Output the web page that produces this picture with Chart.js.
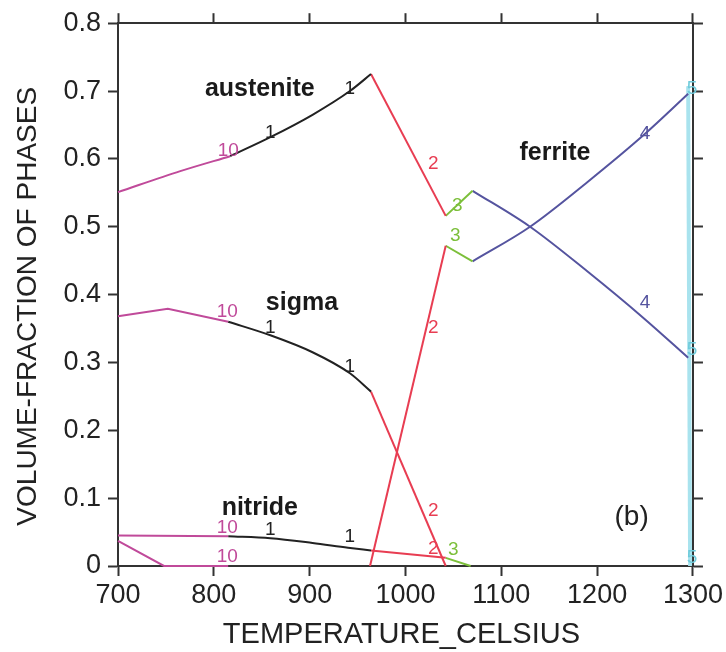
<!DOCTYPE html>
<html>
<head>
<meta charset="utf-8">
<script src="https://cdn.jsdelivr.net/npm/chart.js@4.4.1/dist/chart.umd.min.js"></script>
<style>
  html, body { margin: 0; padding: 0; background: #ffffff; }
  #wrap { width: 726px; height: 652px; position: relative; }
</style>
</head>
<body>
<div id="wrap"><canvas id="c"></canvas></div>
<script>
// ---- data (temperature °C, volume fraction) ----
const austeniteA = [[700,0.551],[765,0.582],[817,0.604]];
const austeniteB = [[817,0.604],[859,0.632],[903,0.665],[942,0.700],[964,0.725]];
const austeniteC = [[964,0.725],[1042,0.516]];
const austeniteD = [[1042,0.516],[1070,0.553]];
const austeniteE = [[1070,0.553],[1130,0.500],[1190,0.434],[1248,0.366],[1295,0.307]];

const sigmaA = [[700,0.368],[752,0.379],[815,0.360]];
const sigmaB = [[815,0.360],[859,0.340],[903,0.315],[942,0.284],[964,0.257]];
const sigmaC = [[964,0.257],[1042,0.0]];

const ferriteC = [[963,0.0],[1042,0.472]];
const ferriteD = [[1042,0.472],[1070,0.449]];
const ferriteE = [[1070,0.449],[1130,0.500],[1190,0.566],[1250,0.637],[1295,0.696]];

const nitrideA = [[700,0.045],[815,0.044]];
const nitrideB = [[815,0.044],[859,0.041],[903,0.034],[940,0.027],[964,0.023]];
const nitrideC = [[964,0.023],[1042,0.012]];
const nitrideD = [[1042,0.012],[1068,0.0]];

const otherA = [[700,0.037],[748,0.0],[815,0.0]];
const liquidF = [[1295,0.707],[1297,0.0]];

const xTicks = [700, 800, 900, 1000, 1100, 1200, 1300];
const yTicks = [0, 0.1, 0.2, 0.3, 0.4, 0.5, 0.6, 0.7, 0.8];

// phase names and step numbers placed in data coordinates
const phaseNames = ['austenite', 'sigma', 'nitride', 'ferrite'];
const phaseNameX = [848, 892, 848, 1156];
const phaseNameY = [0.703, 0.387, 0.085, 0.609];

const stepText = ['10','10','10','10','1','1','1','1','1','1','2','2','2','2','3','3','3','4','4','5','5','5'];
const stepX    = [815, 814, 814, 814, 859, 942, 859, 942, 859, 942, 1029, 1029, 1029, 1029, 1054, 1052, 1050, 1250, 1250, 1299, 1299, 1299];
const stepY    = [0.612, 0.374, 0.057, 0.013, 0.638, 0.704, 0.351, 0.293, 0.054, 0.043, 0.593, 0.351, 0.082, 0.026, 0.531, 0.487, 0.024, 0.637, 0.388, 0.703, 0.318, 0.012];
const stepKind = ['m','m','m','m','k','k','k','k','k','k','r','r','r','r','g','g','g','b','b','c','c','c'];

// ---- styles ----
const COL = { k: '#222222', r: '#e83d52', g: '#7cbf3a', b: '#55549f', m: '#c04a9a', c: '#6fcbdb' };
const FONT = "'Liberation Sans', Arial, Helvetica, sans-serif";

function pts(arr) { return arr.map(p => ({ x: p[0], y: p[1] })); }
function seg(arr, kind, width) {
  return { data: pts(arr), showLine: true, borderColor: COL[kind], borderWidth: width || 2,
           pointRadius: 0, pointHoverRadius: 0, fill: false, tension: 0,
           cubicInterpolationMode: arr.length > 2 ? 'monotone' : 'default', clip: 6 };
}

const datasets = [
  Object.assign(seg(otherA, 'm'), { cubicInterpolationMode: 'default' }),
  seg(nitrideA, 'm'), seg(austeniteA, 'm'),
  Object.assign(seg(sigmaA, 'm'), { cubicInterpolationMode: 'default' }),
  seg(austeniteB, 'k'), seg(sigmaB, 'k'), seg(nitrideB, 'k'),
  seg(austeniteC, 'r'), seg(sigmaC, 'r'), seg(ferriteC, 'r'), seg(nitrideC, 'r'),
  seg(austeniteD, 'g'), seg(ferriteD, 'g'), seg(nitrideD, 'g'),
  seg(austeniteE, 'b'), seg(ferriteE, 'b'),
  Object.assign(seg(liquidF, 'c', 4), { borderColor: '#a9e3ee' }),
  Object.assign(seg(liquidF, 'c', 1.5), { borderColor: '#3fb3c4' })
];

const labelPlugin = {
  id: 'labels',
  afterDatasetsDraw(chart) {
    const ctx = chart.ctx, xs = chart.scales.x, ys = chart.scales.y;
    ctx.save();
    ctx.textAlign = 'center';
    ctx.textBaseline = 'middle';
    ctx.fillStyle = '#1a1a1a';
    ctx.font = 'bold 25px ' + FONT;
    phaseNames.forEach((t, i) => {
      ctx.fillText(t, xs.getPixelForValue(phaseNameX[i]), ys.getPixelForValue(phaseNameY[i]));
    });
    ctx.font = '19px ' + FONT;
    stepText.forEach((t, i) => {
      ctx.fillStyle = COL[stepKind[i]];
      ctx.fillText(t, xs.getPixelForValue(stepX[i]), ys.getPixelForValue(stepY[i]));
    });
    ctx.fillStyle = '#222';
    ctx.font = '28px ' + FONT;
    ctx.fillText('(b)', xs.getPixelForValue(1236), ys.getPixelForValue(0.072));
    ctx.restore();
  }
};

const axisColor = '#333333';
function gridOpts() {
  return { drawOnChartArea: false, drawTicks: true, tickLength: 10, tickColor: axisColor, tickWidth: 2 };
}

new Chart(document.getElementById('c'), {
  type: 'scatter',
  data: { datasets },
  plugins: [labelPlugin],
  options: {
    responsive: true,
    maintainAspectRatio: false,
    animation: false,
    layout: { padding: 0 },
    plugins: { legend: { display: false }, tooltip: { enabled: false } },
    scales: {
      x: {
        type: 'linear', position: 'bottom', min: 700, max: 1300,
        afterBuildTicks: s => { s.ticks = xTicks.map(v => ({ value: v })); },
        ticks: { color: '#222', font: { family: FONT, size: 27 }, padding: 3, maxRotation: 0, autoSkip: false,
                 callback: v => String(v) },
        grid: gridOpts(),
        border: { color: axisColor, width: 2 },
        title: { display: true, text: 'TEMPERATURE_CELSIUS ', color: '#222', font: { family: FONT, size: 29 },
                 padding: { top: 0, bottom: 0 } },
        afterFit: s => { s.height = 86; }
      },
      x2: {
        type: 'linear', position: 'top', min: 700, max: 1300,
        afterBuildTicks: s => { s.ticks = xTicks.map(v => ({ value: v })); },
        ticks: { display: false },
        grid: gridOpts(),
        border: { color: axisColor, width: 2 },
        afterFit: s => { s.height = 22; }
      },
      y: {
        type: 'linear', position: 'left', min: 0, max: 0.8,
        afterBuildTicks: s => { s.ticks = yTicks.map(v => ({ value: v })); },
        ticks: { color: '#222', font: { family: FONT, size: 27 }, padding: 7,
                 callback: v => (v === 0 ? '0' : Number(v).toFixed(1)) },
        grid: gridOpts(),
        border: { color: axisColor, width: 2 },
        title: { display: true, text: 'VOLUME-FRACTION OF PHASES   ', color: '#222', font: { family: FONT, size: 28 },
                 padding: { top: 11, bottom: 0 } },
        afterFit: s => { s.width = 118; }
      },
      y2: {
        type: 'linear', position: 'right', min: 0, max: 0.8,
        afterBuildTicks: s => { s.ticks = yTicks.map(v => ({ value: v })); },
        ticks: { display: false },
        grid: gridOpts(),
        border: { color: axisColor, width: 2 },
        afterFit: s => { s.width = 33; }
      }
    }
  }
});
</script>
</body>
</html>
